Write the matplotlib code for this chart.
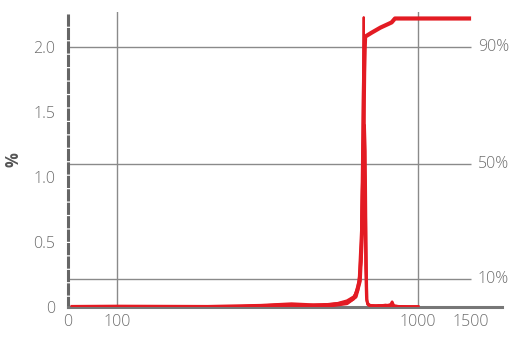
import matplotlib
matplotlib.use("Agg")
import matplotlib.pyplot as plt
from matplotlib import transforms

# ---- data ----
main_x = [5, 100, 200, 300, 380, 450, 520, 580, 620, 640, 652, 658, 662, 665, 667, 700, 750, 800, 817, 838, 900, 1000, 1500]
main_y = [0.0, 0.002, 0.0, 0.008, 0.02, 0.012, 0.015, 0.03, 0.08, 0.2, 0.6, 1.3, 1.8, 2.0, 2.08, 2.11, 2.15, 2.18, 2.19, 2.22, 2.22, 2.22, 2.22]

dist_x = [10, 50, 100, 150, 200, 250, 300, 350, 380, 420, 480, 540, 580, 610, 630, 640, 648,
          652, 656, 660, 664, 668, 672, 676, 680, 690, 710, 740, 780, 810, 820, 830, 860, 920, 1000]
dist_a = [0.005, 0.005, 0.006, 0.004, 0.0, 0.005, 0.012, 0.02, 0.022, 0.015, 0.018, 0.03, 0.05, 0.08,
          0.13, 0.2, 0.35, 0.8, 1.6, 2.23, 1.2, 0.3, 0.08, 0.04, 0.02, 0.01, 0.005, 0.01, 0.012, 0.02,
          0.01, 0.005, 0.004, 0.003, 0.003]
dist_b = [0.003, 0.004, 0.004, 0.003, 0.002, 0.004, 0.008, 0.015, 0.018, 0.012, 0.015, 0.025, 0.04, 0.07,
          0.12, 0.2, 0.4, 0.8, 1.2, 1.4, 1.4, 1.2, 0.5, 0.06, 0.03, 0.015, 0.008, 0.012, 0.01, 0.015,
          0.04, 0.01, 0.005, 0.003, 0.003]
dist_c = [0.002, 0.003, 0.003, 0.002, 0.001, 0.003, 0.006, 0.01, 0.012, 0.01, 0.012, 0.02, 0.03, 0.06,
          0.15, 0.25, 0.5, 0.9, 1.1, 1.0, 1.05, 0.9, 0.34, 0.05, 0.02, 0.01, 0.012, 0.008, 0.015, 0.01,
          0.03, 0.008, 0.004, 0.002, 0.002]

pct_vals = [2.0, 1.10, 0.215]
pct_labels = ["90%", "50%", "10%"]
xticks = [0, 100, 1000, 1500]
xticklabels = ["0", "100", "1000", "1500"]
yticks = [0, 0.5, 1.0, 1.5, 2.0]
yticklabels = ["0", "0.5", "1.0", "1.5", "2.0"]

RED = "#E31B23"
GRID = "#8a8a8a"
TXT = "#6e6e6e"
plt.rcParams['font.family'] = ['Open Sans', 'DejaVu Sans']

fig = plt.figure(figsize=(5.09, 3.39), dpi=100)
ax = fig.add_axes([68/509, 32/339, 434/509, 295/339])
ax.set_xscale('symlog', linthresh=100, linscale=0.1465)
ax.set_xlim(0, 1900)
ax.set_ylim(0, 2.27)

# grid lines
for v in [100, 1000]:
    ax.axvline(v, color=GRID, lw=1.0, zorder=1)
ax.hlines(pct_vals, 0, 1500, color=GRID, lw=1.0, zorder=1)
trans = transforms.blended_transform_factory(ax.transAxes, ax.transData)
for v, lab in zip(pct_vals, pct_labels):
    ax.text(0.944, v, lab, transform=trans, ha='left', va='center', color=TXT,
            fontsize=11.5, fontweight='light', clip_on=False)

# data
for ys in [dist_c, dist_b]:
    ax.plot(dist_x, ys, color=RED, lw=2.0, zorder=3)
ax.plot(dist_x, dist_a, color=RED, lw=1.6, zorder=3)
ax.plot(main_x, main_y, color=RED, lw=3.0, zorder=4, solid_capstyle='butt')

# spines
for s in ['top', 'right']:
    ax.spines[s].set_visible(False)
ax.spines['left'].set_color('#666666')
ax.spines['left'].set_linewidth(2.2)
ax.spines['left'].set_linestyle((0, (3, 1.4)))
ax.spines['bottom'].set_color('#777777')
ax.spines['bottom'].set_linewidth(2.2)

ax.set_xticks(xticks)
ax.set_xticklabels(xticklabels)
ax.set_yticks(yticks)
ax.set_yticklabels(yticklabels)
ax.xaxis.set_minor_locator(matplotlib.ticker.NullLocator())
ax.tick_params(axis='both', length=0, colors=TXT, labelsize=11.5)
ax.tick_params(axis='y', pad=9)
ax.tick_params(axis='x', pad=5)
for lab in ax.get_xticklabels() + ax.get_yticklabels():
    lab.set_fontweight('light')

ax.set_ylabel('%', fontsize=12, fontweight='bold', color='#555555', labelpad=8)

fig.savefig('out.png', dpi=100)
